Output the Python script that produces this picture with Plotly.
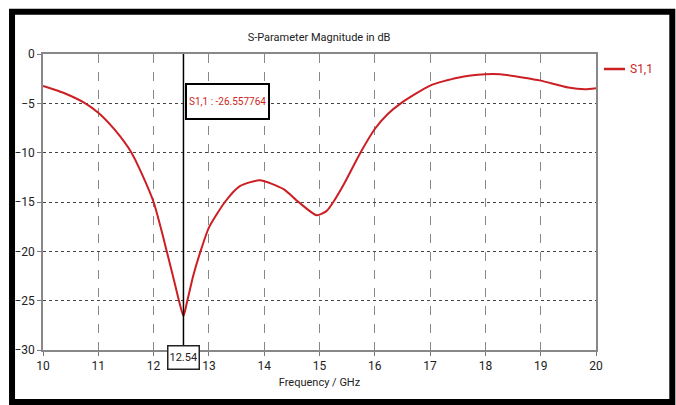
import plotly.graph_objects as go

# Data
freq_ghz = [10.0, 10.2, 10.4, 10.75, 11.0, 11.3, 11.6, 11.8, 12.0, 12.12, 12.22, 12.35,
            12.45, 12.54, 12.61, 12.72, 12.86, 13.0, 13.29, 13.56, 13.92, 14.35, 14.62,
            14.95, 15.13, 15.25, 15.44, 15.74, 16.0, 16.23, 16.47, 17.0, 17.5, 18.0,
            18.27, 18.7, 19.0, 19.5, 19.8, 20.0]
s11_db = [-3.24, -3.6, -4.0, -4.95, -5.95, -7.7, -10.0, -12.3, -15.0, -17.4, -19.6, -22.5,
          -24.8, -26.56, -25.0, -22.4, -19.8, -17.6, -15.0, -13.4, -12.8, -13.7, -15.0,
          -16.35, -15.9, -15.0, -13.2, -10.0, -7.6, -6.1, -5.0, -3.2, -2.4, -2.06,
          -2.06, -2.4, -2.7, -3.4, -3.57, -3.47]
x_ticks = [10, 11, 12, 13, 14, 15, 16, 17, 18, 19, 20]
y_ticks = [0, -5, -10, -15, -20, -25, -30]
marker_freq = 12.54
marker_value = -26.557764
series_name = "S1,1"

FONT = "Roboto, Liberation Sans, sans-serif"
RED = "#cc1f24"
TXT = "#222"

fig = go.Figure()
fig.add_trace(go.Scatter(
    x=freq_ghz, y=s11_db, mode="lines", name=series_name, showlegend=False,
    line=dict(color=RED, width=2, shape="spline", smoothing=0.6),
))

# marker line
fig.add_shape(type="line", xref="x", yref="y", x0=marker_freq, x1=marker_freq,
              y0=min(y_ticks), y1=max(y_ticks), line=dict(color="black", width=1.5))

# outer black frame
fig.add_shape(type="rect", xref="paper", yref="paper",
              x0=-0.056, x1=1.138, y0=-0.176, y1=1.143,
              line=dict(color="black", width=6), fillcolor="rgba(0,0,0,0)")

# legend (drawn manually)
fig.add_shape(type="line", xref="paper", yref="paper", x0=1.0145, x1=1.0524,
              y0=0.9493, y1=0.9493, line=dict(color=RED, width=2.5))
fig.add_annotation(xref="paper", yref="paper", x=1.0579, y=0.9493, xanchor="left",
                   yanchor="middle", text=series_name, showarrow=False,
                   font=dict(family=FONT, size=12, color=RED))

fig.add_annotation(xref="paper", yref="paper", x=0.3345, y=0.9037,
                   text=f"{series_name} : {marker_value:.6f}", showarrow=False,
                   font=dict(family=FONT, size=10, color=RED),
                   bordercolor="black", borderwidth=2, borderpad=2,
                   height=29, bgcolor="white")
fig.add_annotation(xref="x", yref="paper", x=marker_freq, y=-0.0666,
                   text=f"{marker_freq:.2f}", showarrow=False,
                   font=dict(family=FONT, size=11, color=TXT),
                   bordercolor=TXT, borderwidth=1.5, borderpad=1,
                   height=20, bgcolor="white")

fig.update_layout(
    width=676, height=405,
    margin=dict(l=43, r=80, t=54, b=55, autoexpand=False),
    paper_bgcolor="white", plot_bgcolor="white",
    font=dict(family=FONT, size=12, color=TXT),
    title=dict(text="S-Parameter Magnitude in dB", x=0.472, xanchor="center",
               y=0.909, yanchor="middle", font=dict(family=FONT, size=11, color=TXT)),
    showlegend=False,
)
fig.update_xaxes(range=[10, 20], tickvals=x_ticks, ticks="outside", ticklen=4,
                 tickcolor="#777", showline=True, linecolor="#888", linewidth=1.5,
                 mirror=True, showgrid=True, gridcolor="#888", griddash="dash",
                 gridwidth=1, zeroline=False, tickfont=dict(size=12),
                 title=dict(text="Frequency / GHz", standoff=6,
                            font=dict(family=FONT, size=11, color=TXT)))
fig.update_yaxes(range=[-30, 0], tickvals=y_ticks, ticks="outside", ticklen=4,
                 tickcolor="#777", showline=True, linecolor="#888", linewidth=1.5,
                 mirror=True, showgrid=True, gridcolor="#444", griddash="dot",
                 gridwidth=1, zeroline=False, tickfont=dict(size=12))

fig.write_html("out.html", config={"displayModeBar": False},
               post_script="document.body.style.margin='0';")
